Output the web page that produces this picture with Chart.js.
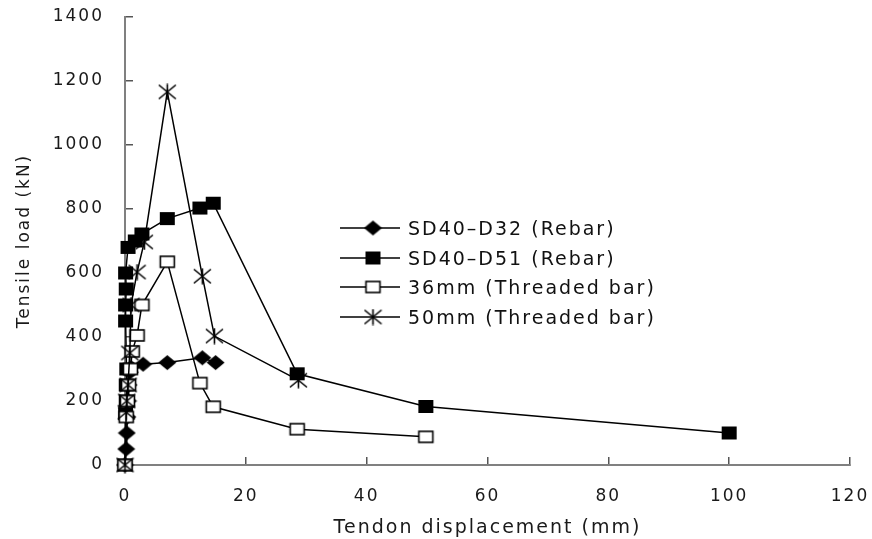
<!DOCTYPE html>
<html>
<head>
<meta charset="utf-8">
<script src="https://cdn.jsdelivr.net/npm/chart.js@4.4.0/dist/chart.umd.min.js"></script>
<style>
  html, body { margin: 0; padding: 0; background: #fff; }
  #wrap { width: 872px; height: 539px; }
</style>
</head>
<body>
<div id="wrap"><canvas id="chart" width="872" height="539"></canvas></div>
<script>
"use strict";

/* ---------------- data ---------------- */
const SERIES_NAMES = [
  "SD40\u2013D32 (Rebar)",
  "SD40\u2013D51 (Rebar)",
  "36mm (Threaded bar)",
  "50mm (Threaded bar)",
];

const D32_X = [0, 0.2, 0.3, 0.4, 0.5, 0.6, 0.8, 1.0, 3.0, 7.0, 12.8, 15.0];
const D32_Y = [0, 50, 100, 150, 200, 250, 290, 305, 315, 320, 335, 320];

const D51_X = [0, 0.1, 0.2, 0.2, 0.3, 0.1, 0.1, 0.2, 0.1, 0.5, 1.7, 2.8, 7.0, 12.4, 14.6, 28.5, 49.8, 100];
const D51_Y = [0, 160, 200, 250, 300, 450, 500, 550, 600, 680, 700, 722, 770, 803, 818, 285, 183, 100];

const T36_X = [0, 0.2, 0.4, 0.6, 0.9, 1.2, 2.0, 2.8, 7.0, 12.4, 14.6, 28.5, 49.8];
const T36_Y = [0, 150, 200, 250, 300, 355, 405, 500, 635, 256, 182, 112, 88];

const T50_X = [0, 0.2, 0.3, 0.5, 0.8, 1.0, 2.0, 3.2, 7.0, 12.8, 14.8, 28.7];
const T50_Y = [0, 165, 200, 250, 350, 500, 603, 697, 1166, 590, 403, 265];

const X_TICKS = [0, 20, 40, 60, 80, 100, 120];
const Y_TICKS = [0, 200, 400, 600, 800, 1000, 1200, 1400];

const X_TITLE = "Tendon displacement (mm)";
const Y_TITLE = "Tensile load (kN)";

/* ---------------- markers ---------------- */
function makeMarker(kind) {
  const c = document.createElement("canvas");
  const w = 19, h = 17;
  c.width = w;
  c.height = h;
  const g = c.getContext("2d");
  g.fillStyle = "#000";
  g.strokeStyle = "#000";
  g.lineWidth = 1.6;
  if (kind === "diamond") {
    g.beginPath();
    g.moveTo(w / 2, 1);
    g.lineTo(w - 0.5, h / 2);
    g.lineTo(w / 2, h - 1);
    g.lineTo(0.5, h / 2);
    g.closePath();
    g.fill();
  } else if (kind === "square") {
    g.fillRect(2, 2, 15, 13);
  } else if (kind === "open") {
    g.fillStyle = "#fff";
    g.fillRect(2.5, 3, 14, 11);
    g.strokeRect(2.5, 3, 14, 11);
  } else if (kind === "star") {
    g.beginPath();
    g.moveTo(w / 2, 0.5);
    g.lineTo(w / 2, h - 0.5);
    g.moveTo(1, 1.5);
    g.lineTo(w - 1, h - 1.5);
    g.moveTo(w - 1, 1.5);
    g.lineTo(1, h - 1.5);
    g.stroke();
  }
  return c;
}

const MARKERS = [makeMarker("diamond"), makeMarker("square"), makeMarker("open"), makeMarker("star")];

function toPoints(xs, ys) {
  return xs.map((x, i) => ({ x: x, y: ys[i] }));
}

function makeDataset(i, xs, ys) {
  return {
    label: SERIES_NAMES[i],
    data: toPoints(xs, ys),
    borderColor: "#000",
    borderWidth: 1.5,
    backgroundColor: "#000",
    pointStyle: MARKERS[i],
    pointRadius: 6,
    pointHoverRadius: 6,
    tension: 0,
    clip: false,
    order: 4 - i,
  };
}

/* ---------------- plugins ---------------- */
const spacingPlugin = {
  id: "spacing",
  beforeLayout(chart) { chart.ctx.letterSpacing = "2px"; },
  beforeDraw(chart) { chart.ctx.letterSpacing = "2px"; },
};

const LEGEND_ROWS = [228, 258, 287, 317];

const legendPlugin = {
  id: "insideLegend",
  afterDraw(chart) {
    const ctx = chart.ctx;
    ctx.save();
    ctx.letterSpacing = "2px";
    ctx.font = "19px 'DejaVu Sans'";
    ctx.textBaseline = "alphabetic";
    ctx.textAlign = "left";
    chart.data.datasets.forEach((ds, i) => {
      const y = LEGEND_ROWS[i];
      ctx.strokeStyle = "#000";
      ctx.lineWidth = 1.5;
      ctx.beginPath();
      ctx.moveTo(340, y);
      ctx.lineTo(400, y);
      ctx.stroke();
      const m = MARKERS[i];
      ctx.drawImage(m, 373 - m.width / 2, y - m.height / 2);
      ctx.fillStyle = "#111";
      ctx.fillText(ds.label, 408, y + 7);
    });
    ctx.restore();
  },
};

/* ---------------- chart ---------------- */
const AXIS_GREY = "#808080";

function fixX(s) {
  s.height = 74;
  s.paddingLeft = 0;
  s.paddingRight = 0;
}

function fixY(s) {
  s.width = 125;
  s.paddingTop = 0;
  s.paddingBottom = 0;
}

new Chart(document.getElementById("chart"), {
  type: "scatter",
  data: {
    datasets: [
      makeDataset(0, D32_X, D32_Y),
      makeDataset(1, D51_X, D51_Y),
      makeDataset(2, T36_X, T36_Y),
      makeDataset(3, T50_X, T50_Y),
    ],
  },
  options: {
    responsive: false,
    animation: false,
    showLine: true,
    layout: { padding: { top: 17, right: 22, left: 0, bottom: 0 } },
    plugins: {
      legend: { display: false },
      tooltip: { enabled: false },
    },
    scales: {
      x: {
        type: "linear",
        min: 0,
        max: 120,
        afterBuildTicks: (s) => { s.ticks = X_TICKS.map((v) => ({ value: v })); },
        afterFit: fixX,
        border: { color: AXIS_GREY, width: 2 },
        grid: { drawOnChartArea: false, tickLength: -8, color: "#555", lineWidth: 1.5 },
        ticks: {
          padding: 29,
          color: "#1a1a1a",
          font: { family: "'DejaVu Sans'", size: 17 },
          callback: (v) => String(v),
        },
        title: {
          display: true,
          text: X_TITLE,
          color: "#1a1a1a",
          font: { family: "'DejaVu Sans'", size: 19 },
          padding: { top: 0, bottom: 0 },
        },
      },
      y: {
        type: "linear",
        min: 0,
        max: 1400,
        afterBuildTicks: (s) => { s.ticks = Y_TICKS.map((v) => ({ value: v })); },
        afterFit: fixY,
        border: { color: AXIS_GREY, width: 2 },
        grid: { drawOnChartArea: false, tickLength: -8, color: "#555", lineWidth: 1.5 },
        ticks: {
          padding: 29,
          color: "#1a1a1a",
          font: { family: "'DejaVu Sans'", size: 17 },
          callback: (v) => String(v),
        },
        title: {
          display: true,
          text: Y_TITLE,
          color: "#1a1a1a",
          font: { family: "'DejaVu Sans'", size: 17 },
          padding: { top: 14, bottom: 0 },
        },
      },
    },
  },
  plugins: [spacingPlugin, legendPlugin],
});
</script>
</body>
</html>
